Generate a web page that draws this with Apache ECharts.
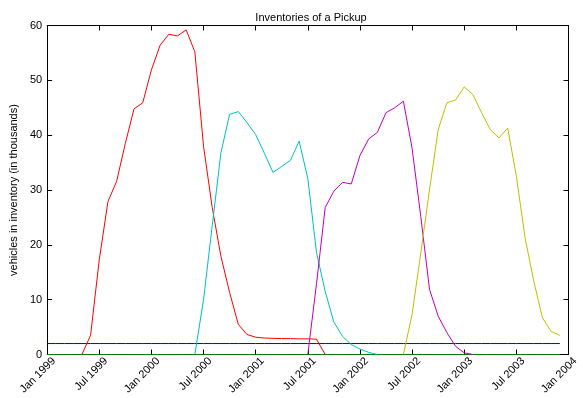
<!DOCTYPE html>
<html>
<head>
<meta charset="utf-8">
<script src="https://cdn.jsdelivr.net/npm/echarts@6/dist/echarts.min.js"></script>
<style>
html,body{margin:0;padding:0;background:#fff;}
#chart{width:583px;height:398px;}
</style>
</head>
<body>
<div id="chart"></div>
<script>
// x positions are month indices counted from Jan 1999 (0 = Jan 1999, 60 = Jan 2004)
const tickLabels = ['Jan 1999','Jul 1999','Jan 2000','Jul 2000','Jan 2001','Jul 2001','Jan 2002','Jul 2002','Jan 2003','Jul 2003','Jan 2004'];

const refBlueStart = 0;
const refBlue = [2,2,2,2,2,2,2,2,2,2,2,2,2,2,2,2,2,2,2,2,2,2,2,2,2,2,2,2,2,2,2,2,2,2,2,2,2,2,2,2,2,2,2,2,2,2,2,2,2,2,2,2,2,2,2,2,2,2,2,2];
const refGreenStart = 0;
const refGreen = [0,0,0,0,0,0,0,0,0,0,0,0,0,0,0,0,0,0,0,0,0,0,0,0,0,0,0,0,0,0,0,0,0,0,0,0,0,0,0,0,0,0,0,0,0,0,0,0,0,0,0,0,0,0,0,0,0,0,0,0];

const redStart = 4;
const red = [0, 3.5, 17.3, 27.9, 31.6, 38.5, 44.8, 45.9, 51.9, 56.4, 58.4, 58.1, 59.2, 55.2, 38.0, 26.8, 17.9, 11.3, 5.5, 3.65, 3.15, 3.0, 2.95, 2.9, 2.9, 2.85, 2.85, 2.8, 0];

const cyanStart = 17;
const cyan = [0, 10.0, 23.5, 36.8, 43.8, 44.3, 42.3, 40.1, 36.7, 33.2, 34.3, 35.4, 38.9, 32.1, 18.6, 11.5, 5.9, 3.3, 1.8, 1.0, 0.4, 0];

const magentaStart = 30;
const magenta = [0, 12.9, 26.8, 29.8, 31.4, 31.1, 36.3, 39.3, 40.5, 44.1, 45.0, 46.2, 37.6, 25.2, 11.9, 7.0, 4.0, 1.5, 0.3, 0];

const yellowStart = 41;
const yellow = [0, 7.3, 18.5, 30.0, 41.0, 45.9, 46.4, 48.8, 47.4, 44.1, 41.0, 39.5, 41.3, 32.5, 21.3, 13.4, 6.7, 4.2, 3.5];

function pairs(start, vals){ return vals.map((v,i)=>[start+i, v]); }

const chart = echarts.init(document.getElementById('chart'), null, {renderer:'canvas'});
const font = 'Liberation Sans, Arial, Helvetica, sans-serif';
const axisLine = {show:true, onZero:false, lineStyle:{color:'#000', width:1}};
const tick = {show:true, inside:true, length:5, lineStyle:{color:'#000'}};
const mk = (name, data, color) => ({
  name, type:'line', data, showSymbol:false, symbol:'none',
  lineStyle:{color, width:1}, itemStyle:{color}, emphasis:{disabled:true},
  animation:false, z:2
});
chart.setOption({
  animation:false,
  backgroundColor:'#fff',
  title:{text:'Inventories of a Pickup', left:306, top:7, textAlign:'center',
    textStyle:{fontFamily:font, fontSize:11, fontWeight:'normal', color:'#000'}},
  grid:{left:43.5, right:14.5, top:25.5, bottom:43.5, containLabel:false},
  xAxis:[{
    type:'value', min:0, max:60, interval:6, position:'bottom',
    axisLine, splitLine:{show:false}, axisTick:tick,
    axisLabel:{show:true, rotate:45, margin:-2, verticalAlign:'top', padding:[4,0,0,0],
      fontFamily:font, fontSize:11, color:'#000',
      formatter:(v)=>tickLabels[Math.round(v/6)] || ''}
  },{
    type:'value', min:0, max:60, interval:6, position:'top',
    axisLine, splitLine:{show:false}, axisTick:tick,
    axisLabel:{show:false}
  }],
  yAxis:[{
    type:'value', min:0, max:60, interval:10, position:'left',
    name:'vehicles in inventory (in thousands)', nameLocation:'middle', nameGap:18,
    nameTextStyle:{fontFamily:font, fontSize:11, color:'#000'},
    axisLine, splitLine:{show:false}, axisTick:tick,
    axisLabel:{show:true, margin:5, fontFamily:font, fontSize:11, color:'#000'}
  },{
    type:'value', min:0, max:60, interval:10, position:'right',
    axisLine, splitLine:{show:false}, axisTick:tick,
    axisLabel:{show:false}
  }],
  series:[
    mk('blue', pairs(refBlueStart, refBlue), '#0000ff'),
    mk('green', pairs(refGreenStart, refGreen), '#008000'),
    mk('red', pairs(redStart, red), '#ff0000'),
    mk('cyan', pairs(cyanStart, cyan), '#00bfbf'),
    mk('magenta', pairs(magentaStart, magenta), '#bf00bf'),
    mk('yellow', pairs(yellowStart, yellow), '#bfbf00')
  ]
});
</script>
</body>
</html>
